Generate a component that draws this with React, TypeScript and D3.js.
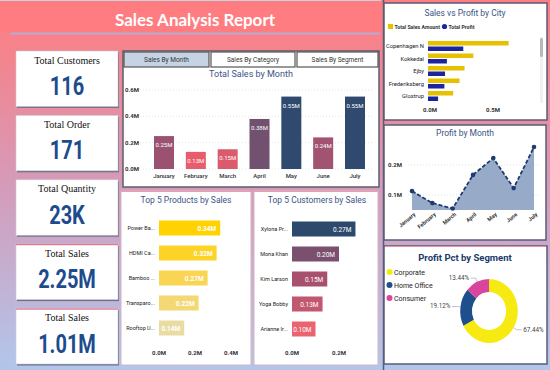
import React from "react";
import * as d3 from "d3";

// ---------- DATA ----------
const kpiLabels = ["Total Customers", "Total Order", "Total Quantity", "Total Sales", "Total Sales"];
const kpiValues = ["116", "171", "23K", "2.25M", "1.01M"];
const tabs = ["Sales By Month", "Sales By Category", "Sales By Segment"];
const months = ["January", "February", "March", "April", "May", "June", "July"];
const monthlySales = [0.25, 0.13, 0.15, 0.38, 0.55, 0.24, 0.55];
const monthlyProfit = [0.113, 0.073, 0.055, 0.167, 0.223, 0.123, 0.26];
const products = ["Power Ba...", "HDMI Ca...", "Bamboo ...", "Transparo...", "Rooftop U..."];
const productSales = [0.34, 0.32, 0.27, 0.22, 0.14];
const customers = ["Xylona Pr...", "Mona Khan", "Kim Larson", "Yoga Bobby", "Arianne Ir..."];
const customerSales = [0.27, 0.2, 0.15, 0.13, 0.1];
const cities = ["Copenhagen N", "Kokkedal", "Ejby", "Frederiksberg", "Glostrup"];
const citySales = [0.64, 0.36, 0.29, 0.25, 0.2];
const cityProfit = [0.28, 0.15, 0.135, 0.13, 0.08];
const segments = ["Corporate", "Home Office", "Consumer"];
const segmentPct = [67.44, 19.12, 13.44];

const F = "Roboto, 'DejaVu Sans', sans-serif";
const fmtM = (v: number) => d3.format(".2f")(v) + "M";
const fmtAx = (v: number) => d3.format(".1f")(v) + "M";

export default function App() {
  // KPI layout
  const kpiY = d3.scaleBand<number>().domain(d3.range(kpiLabels.length)).range([51, 364]).paddingInner(0.14);

  // Sales by month
  const xM = d3.scalePoint<string>().domain(months).range([164, 355]);
  const yM = d3.scaleLinear().domain([0, 0.6]).range([169, 90]);
  const monthColor = d3
    .scaleLinear<string>()
    .domain([0.13, 0.25, 0.55])
    .range(["#e85d6b", "#9b5272", "#2f4a6e"])
    .interpolate(d3.interpolateLab);

  // Products
  const xP = d3.scaleLinear().domain([0, 0.4]).range([159, 231]);
  const yP = d3.scaleBand<string>().domain(products).range([210.5, 345.5]).padding(0.4);
  const prodColor = d3
    .scaleLinear<string>()
    .domain([0.14, 0.34])
    .range(["#e9dca2", "#ffd200"])
    .interpolate(d3.interpolateLab);

  // Customers
  const xC = d3.scaleLinear().domain([0, 0.2]).range([292, 339]);
  const yC = d3.scaleBand<string>().domain(customers).range([211.5, 346.5]).padding(0.4);
  const custColor = d3
    .scaleLinear<string>()
    .domain([0.1, 0.15, 0.27])
    .range(["#ea6470", "#a8506e", "#2d4a6d"])
    .interpolate(d3.interpolateLab);

  // City
  const xCity = d3.scaleLinear().domain([0, 0.5]).range([428, 491]);
  const yCity = d3.scaleBand<string>().domain(cities).range([41, 101]).paddingInner(0.2);

  // Profit by month
  const xPM = d3.scalePoint<string>().domain(months).range([412, 534]);
  const yPM = d3.scaleLinear().domain([0.05, 0.28]).range([210, 141]);
  const area = d3
    .area<number>()
    .x((_, i) => xPM(months[i])!)
    .y0(yPM(0.05))
    .y1((d) => yPM(d));
  const line = d3
    .line<number>()
    .x((_, i) => xPM(months[i])!)
    .y((d) => yPM(d));

  // Donut
  const cx = 489, cy = 311, sx = 0.9;
  const pie = d3.pie<number>().sort(null).value((d) => d)(segmentPct);
  const arc = d3.arc<d3.PieArcDatum<number>>().innerRadius(19).outerRadius(32);
  const segColors = ["#f7ea10", "#1f4e8c", "#d8449e"];

  const panel = (x: number, y: number, w: number, h: number, stroke: string, sw = 1.2) => (
    <rect x={x} y={y} width={w} height={h} fill="#fff" stroke={stroke} strokeWidth={sw} />
  );

  return (
    <svg width={550} height={370} style={{ position: "absolute", left: 0, top: 0 }} fontFamily={F}>
      <defs>
        <linearGradient id="bg" x1="0" y1="0" x2="0" y2="1">
          <stop offset="0" stopColor="#ff7d83" />
          <stop offset="0.15" stopColor="#f4848e" />
          <stop offset="0.5" stopColor="#d59bb9" />
          <stop offset="1" stopColor="#b2c6ec" />
        </linearGradient>
      </defs>
      <rect width={550} height={370} fill="url(#bg)" />
      {/* Title band */}
      <rect x={0} y={0} width={381} height={32} fill="#ff7c81" />
      <line x1={0} y1={0.5} x2={381} y2={0.5} stroke="#c7d3dc" />
      <text x={195} y={26} textAnchor="middle" fill="#fff" fontSize={17} fontWeight={700} fontFamily="Lato, 'Open Sans', sans-serif">
        Sales Analysis Report
      </text>
      <line x1={10} y1={33.5} x2={380} y2={33.5} stroke="#b7a9d2" strokeWidth={2} />

      {/* KPI cards */}
      {kpiLabels.map((lab, i) => {
        const y = kpiY(i)!;
        const h = kpiY.bandwidth();
        return (
          <g key={i}>
            <rect x={17} y={y + 1.5} width={102} height={h} fill="#6d7088" />
            <rect x={16} y={y} width={102} height={h} fill="#fff" stroke="#c8ccd8" strokeWidth={0.6} />
            {i >= 3 && <line x1={16} y1={y + 0.5} x2={118} y2={y + 0.5} stroke="#e0607a" strokeWidth={1} />}
            <text x={67} y={y + 12.5} textAnchor="middle" fontSize={10} fontFamily="'Liberation Serif', serif" fill="#111">
              {lab}
            </text>
            <text transform={`translate(67,${y + 44}) scale(0.8,1)`} textAnchor="middle" fontSize={25} fontWeight={700} fill="#1d4c8e" fontFamily="Roboto, 'Open Sans', sans-serif">
              {kpiValues[i]}
            </text>
          </g>
        );
      })}

      {/* Sales by Month panel */}
      {panel(123, 51, 256, 136, "#5b5d6c", 1.5)}
      {tabs.map((t, i) => {
        const xs = [124, 211, 297];
        const ws = [85, 84, 81];
        return (
          <g key={t}>
            <rect x={xs[i]} y={52} width={ws[i]} height={15} fill={i === 0 ? "#c6d3e3" : "#fff"} stroke="#555" strokeWidth={1.2} />
            <text x={xs[i] + ws[i] / 2} y={62} textAnchor="middle" fontSize={6.5} fill="#333">
              {t}
            </text>
          </g>
        );
      })}
      <text x={251} y={77} textAnchor="middle" fontSize={9} fill="#3b5486">
        Total Sales by Month
      </text>
      {yM.ticks(3).map((t) => (
        <g key={t}>
          <line x1={140} x2={372} y1={yM(t)} y2={yM(t)} stroke="#e6e6e6" strokeDasharray="1,2" />
          <text x={125} y={yM(t) + 2} fontSize={6} fontWeight={700} fill="#333">
            {fmtAx(t)}
          </text>
        </g>
      ))}
      {months.map((m, i) => (
        <g key={m}>
          <rect x={xM(m)! - 10} y={yM(monthlySales[i])} width={20} height={yM(0) - yM(monthlySales[i])} fill={monthColor(monthlySales[i])} />
          <text x={xM(m)!} y={yM(monthlySales[i]) + 11} textAnchor="middle" fontSize={6} fill="#fff">
            {fmtM(monthlySales[i])}
          </text>
          <text x={xM(m)!} y={178} textAnchor="middle" fontSize={6} fontWeight={500} fill="#333">
            {m}
          </text>
        </g>
      ))}

      {/* Top 5 Products */}
      {panel(121, 191, 130, 174, "#d7b3c0", 1)}
      <line x1={121} y1={191.5} x2={251} y2={191.5} stroke="#e8a0ae" />
      <text x={186} y={203} textAnchor="middle" fontSize={8.5} fill="#3b5486">
        Top 5 Products by Sales
      </text>
      {products.map((p, i) => (
        <g key={p}>
          <rect x={xP(0)} y={yP(p)!} width={xP(productSales[i]) - xP(0)} height={yP.bandwidth()} fill={prodColor(productSales[i])} />
          <text x={xP(productSales[i]) - 4} y={yP(p)! + yP.bandwidth() / 2 + 2.5} textAnchor="end" fontSize={6.5} fontWeight={700} fill="#fff">
            {fmtM(productSales[i])}
          </text>
          <text x={155} y={yP(p)! + yP.bandwidth() / 2 + 2} textAnchor="end" fontSize={5.5} fill="#222">
            {p}
          </text>
        </g>
      ))}
      {xP.ticks(2).map((t) => (
        <text key={t} x={xP(t)} y={355} textAnchor="middle" fontSize={6} fontWeight={700} fill="#333">
          {fmtAx(t)}
        </text>
      ))}

      {/* Top 5 Customers */}
      {panel(254, 191, 124, 174, "#d7b3c0", 1)}
      <line x1={254} y1={191.5} x2={378} y2={191.5} stroke="#e8a0ae" />
      <text x={317} y={203} textAnchor="middle" fontSize={8.5} fill="#3b5486">
        Top 5 Customers by Sales
      </text>
      {customers.map((c, i) => (
        <g key={c}>
          <rect x={xC(0)} y={yC(c)!} width={xC(customerSales[i]) - xC(0)} height={yC.bandwidth()} fill={custColor(customerSales[i])} />
          <text x={xC(customerSales[i]) - 4} y={yC(c)! + yC.bandwidth() / 2 + 2.5} textAnchor="end" fontSize={6.5} fill="#fff">
            {fmtM(customerSales[i])}
          </text>
          <text x={288} y={yC(c)! + yC.bandwidth() / 2 + 2} textAnchor="end" fontSize={5.5} fill="#222">
            {c}
          </text>
        </g>
      ))}
      {[0, 0.2].map((t) => (
        <text key={t} x={xC(t)} y={355} textAnchor="middle" fontSize={6} fontWeight={700} fill="#333">
          {fmtAx(t)}
        </text>
      ))}

      {/* Right column */}
      <line x1={383.5} y1={0} x2={383.5} y2={370} stroke="#585c76" strokeWidth={1.5} />
      {/* Sales vs Profit by City */}
      {panel(384, 3, 163, 117, "#585c76", 1.5)}
      <text x={465} y={16} textAnchor="middle" fontSize={8.5} fill="#3b5486">
        Sales vs Profit by City
      </text>
      <rect x={388} y={24} width={5} height={5} fill="#e5c100" />
      <text x={394.5} y={28.5} fontSize={5.2} fontWeight={700} fill="#333">Total Sales Amount</text>
      <circle cx={444.5} cy={26.5} r={2.6} fill="#1b259e" />
      <text x={448.5} y={28.5} fontSize={5.2} fontWeight={700} fill="#333">Total Profit</text>
      {cities.map((c, i) => {
        const y = yCity(c)!;
        const bh = yCity.bandwidth() / 2 - 0.5;
        return (
          <g key={c}>
            <rect x={xCity(0)} y={y} width={xCity(citySales[i]) - xCity(0)} height={bh} fill="#e5c100" />
            <rect x={xCity(0)} y={y + bh + 1} width={xCity(cityProfit[i]) - xCity(0)} height={bh} fill="#1b259e" />
            <text x={424} y={y + yCity.bandwidth() / 2 + 2} textAnchor="end" fontSize={5.8} fill="#222">
              {c}
            </text>
          </g>
        );
      })}
      {xCity.ticks(1).map((t) => (
        <text key={t} x={xCity(t) + 2} y={112} textAnchor="middle" fontSize={6} fontWeight={700} fill="#333">
          {fmtAx(t)}
        </text>
      ))}
      <rect x={540} y={37} width={3} height={66} fill="#f0f0f0" />
      <rect x={540} y={38} width={3} height={19} rx={1.5} fill="#b8b8b8" />

      {/* Profit by Month */}
      {panel(384, 125, 162, 115, "#585c76", 1.5)}
      <text x={465} y={136} textAnchor="middle" fontSize={8.5} fill="#3b5486">
        Profit by Month
      </text>
      {[0.1, 0.2].map((t) => (
        <g key={t}>
          <line x1={408} x2={540} y1={yPM(t)} y2={yPM(t)} stroke="#e3e3e3" strokeDasharray="1,2" />
          <text x={388} y={yPM(t) + 2} fontSize={6} fontWeight={700} fill="#333">
            {fmtAx(t)}
          </text>
        </g>
      ))}
      <path d={area(monthlyProfit)!} fill="#97abc9" />
      <path d={line(monthlyProfit)!} fill="none" stroke="#1e3c70" strokeWidth={1.8} strokeDasharray="4,2" />
      {monthlyProfit.map((v, i) => (
        <circle key={i} cx={xPM(months[i])} cy={yPM(v)} r={2.3} fill="#1e3c70" />
      ))}
      {months.map((m) => (
        <text key={m} transform={`translate(${xPM(m)! + 4},${215}) rotate(-40)`} textAnchor="end" fontSize={5.5} fontWeight={700} fill="#333">
          {m}
        </text>
      ))}

      {/* Profit Pct by Segment */}
      {panel(384, 246, 163, 118, "#585c76", 1.5)}
      <line x1={385} y1={246.5} x2={546} y2={246.5} stroke="#e296a8" />
      <text x={465} y={261} textAnchor="middle" fontSize={9.5} fontWeight={700} fill="#1b3a6b">
        Profit Pct by Segment
      </text>
      {segments.map((s, i) => (
        <g key={s}>
          <circle cx={389.5} cy={272 + i * 13} r={3} fill={segColors[i]} />
          <text x={394} y={274.5 + i * 13} fontSize={7} fill="#222">
            {s}
          </text>
        </g>
      ))}
      <g transform={`translate(${cx},${cy}) scale(${sx},1)`}>
        {pie.map((p, i) => (
          <path key={i} d={arc(p)!} fill={segColors[i]} />
        ))}
      </g>
      {pie.map((p, i) => {
        const a = (p.startAngle + p.endAngle) / 2;
        const px = (r: number) => cx + Math.sin(a) * r * sx;
        const py = (r: number) => cy - Math.cos(a) * r;
        const right = Math.sin(a) > 0;
        const ex = px(36), ey = py(36);
        const lx = ex + (right ? 5 : -5);
        return (
          <g key={i}>
            <polyline points={`${px(32)},${py(32)} ${ex},${ey} ${lx},${ey}`} fill="none" stroke="#999" strokeWidth={0.6} />
            <text x={lx + (right ? 1.5 : -1.5)} y={ey + 2} textAnchor={right ? "start" : "end"} fontSize={6.3} fill="#444">
              {d3.format(".2f")(segmentPct[i])}%
            </text>
          </g>
        );
      })}
    </svg>
  );
}
